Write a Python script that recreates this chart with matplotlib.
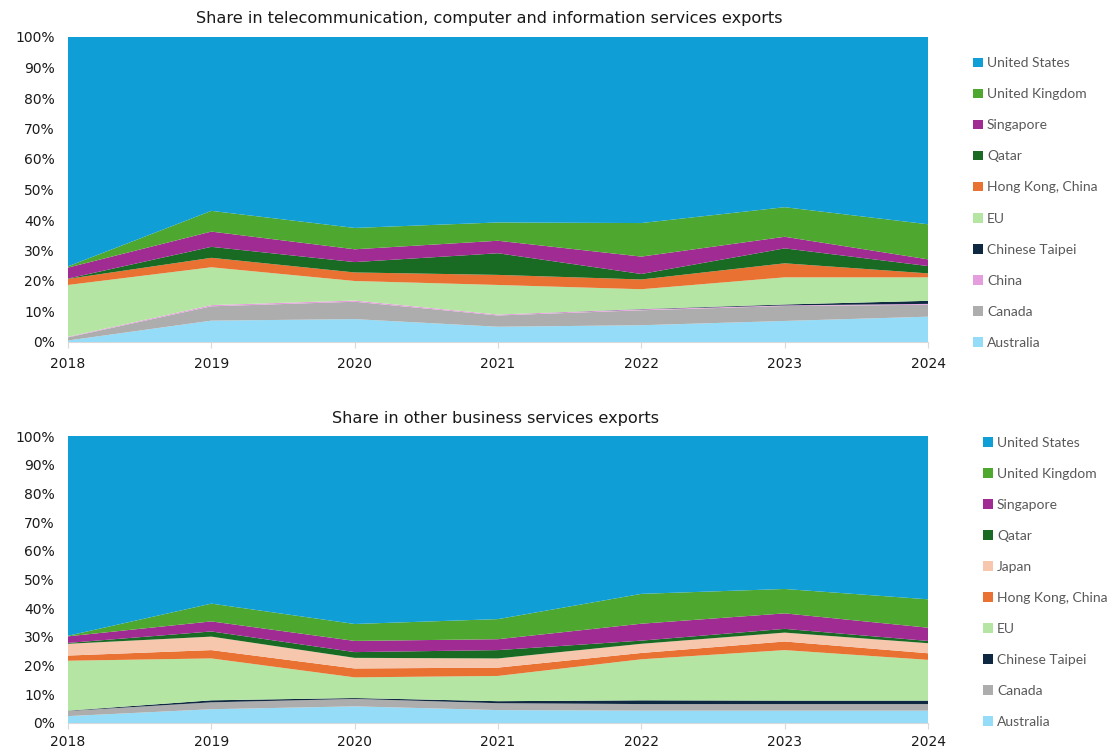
import matplotlib
matplotlib.use("Agg")
import matplotlib.pyplot as plt
from matplotlib.patches import Patch
from matplotlib.ticker import PercentFormatter

years = [2018, 2019, 2020, 2021, 2022, 2023, 2024]

# telecommunication, computer and information services (% share)
tel_australia = [0.5, 7.0, 7.5, 5.0, 5.5, 6.9, 8.3]
tel_canada = [1.0, 4.7, 5.7, 3.7, 4.9, 4.9, 3.9]
tel_china = [0.2, 0.4, 0.4, 0.3, 0.3, 0.2, 0.3]
tel_taipei = [0.0, 0.0, 0.0, 0.0, 0.1, 0.3, 1.0]
tel_eu = [17.0, 12.4, 6.4, 9.7, 6.5, 8.9, 7.7]
tel_hongkong = [2.0, 3.1, 2.8, 3.3, 3.2, 4.6, 1.3]
tel_qatar = [0.1, 3.6, 3.4, 7.1, 1.8, 4.9, 2.4]
tel_singapore = [3.6, 5.0, 4.2, 4.1, 5.7, 3.8, 2.2]
tel_uk = [0.4, 6.8, 7.0, 6.0, 11.0, 9.7, 11.5]
tel_us = [75.2, 57.0, 62.6, 60.8, 61.0, 55.8, 61.4]

# other business services (% share)
obs_australia = [2.4, 4.8, 5.8, 4.5, 4.3, 4.3, 4.3]
obs_canada = [1.8, 2.4, 2.6, 2.4, 2.3, 2.3, 2.3]
obs_taipei = [0.1, 0.7, 0.3, 0.7, 1.3, 1.2, 1.2]
obs_eu = [17.4, 14.6, 7.2, 8.8, 14.3, 17.6, 14.2]
obs_hongkong = [1.8, 2.9, 3.1, 2.9, 2.2, 3.0, 2.3]
obs_japan = [4.1, 4.7, 3.7, 3.2, 3.2, 3.1, 3.5]
obs_qatar = [0.3, 1.8, 2.0, 2.9, 1.1, 1.3, 0.8]
obs_singapore = [2.3, 3.5, 3.9, 3.8, 5.9, 5.4, 4.6]
obs_uk = [0.2, 6.2, 5.9, 7.0, 10.4, 8.5, 9.9]
obs_us = [69.6, 58.4, 65.5, 63.8, 55.0, 53.3, 56.9]

colors = {
    "Australia": "#94DCF8",
    "Canada": "#ADADAD",
    "China": "#E59EDD",
    "Chinese Taipei": "#0E2841",
    "EU": "#B4E5A2",
    "Hong Kong, China": "#E97132",
    "Japan": "#F6C6AD",
    "Qatar": "#196B24",
    "Singapore": "#A02B93",
    "United Kingdom": "#4EA72E",
    "United States": "#0F9ED5",
}

tel_series = {
    "Australia": tel_australia,
    "Canada": tel_canada,
    "China": tel_china,
    "Chinese Taipei": tel_taipei,
    "EU": tel_eu,
    "Hong Kong, China": tel_hongkong,
    "Qatar": tel_qatar,
    "Singapore": tel_singapore,
    "United Kingdom": tel_uk,
    "United States": tel_us,
}

obs_series = {
    "Australia": obs_australia,
    "Canada": obs_canada,
    "Chinese Taipei": obs_taipei,
    "EU": obs_eu,
    "Hong Kong, China": obs_hongkong,
    "Japan": obs_japan,
    "Qatar": obs_qatar,
    "Singapore": obs_singapore,
    "United Kingdom": obs_uk,
    "United States": obs_us,
}

plt.rcParams["font.family"] = "DejaVu Sans"

fig = plt.figure(figsize=(11.09, 7.49), dpi=100)
ax1 = fig.add_axes([68 / 1109, 1 - 342 / 749, 860 / 1109, 305 / 749])
ax2 = fig.add_axes([68 / 1109, 1 - 723 / 749, 860 / 1109, 287 / 749])


def draw(ax, series, xpad):
    names = list(series.keys())
    ax.stackplot(years, [series[n] for n in names],
                 colors=[colors[n] for n in names], linewidth=0)
    ax.set_xlim(years[0], years[-1])
    ax.set_ylim(0, 100)
    ax.set_xticks(years)
    ax.set_yticks(range(0, 101, 10))
    ax.yaxis.set_major_formatter(PercentFormatter(decimals=0))
    for s in ["top", "right", "left"]:
        ax.spines[s].set_visible(False)
    ax.spines["bottom"].set_color("#D9D9D9")
    ax.spines["bottom"].set_zorder(0)
    ax.tick_params(axis="x", length=4, color="#D9D9D9", pad=xpad,
                   labelsize=10, labelcolor="#1a1a1a")
    ax.tick_params(axis="y", length=0, pad=9.5, labelsize=10,
                   labelcolor="#1a1a1a")
    # legend lists the top band first
    handles = [Patch(facecolor=colors[n], edgecolor="none") for n in names[::-1]]
    return handles, names[::-1]


h1, l1 = draw(ax1, tel_series, 6.5)
h2, l2 = draw(ax2, obs_series, 4.5)

leg_kw = dict(frameon=False, loc="center left", borderpad=0, borderaxespad=0,
              handlelength=0.7, handleheight=0.7, handletextpad=0.3,
              labelspacing=1.37, labelcolor="#595959",
              prop={"family": "Lato", "size": 10})
fig.legend(h1, l1, bbox_to_anchor=(973 / 1109, 1 - 203 / 749), **leg_kw)
fig.legend(h2, l2, bbox_to_anchor=(983 / 1109, 1 - 582.5 / 749), **leg_kw)

fig.text(489 / 1109, 1 - 19 / 749,
         "Share in telecommunication, computer and information services exports",
         ha="center", va="center", fontsize=11.6, color="#1a1a1a")
fig.text(496 / 1109, 1 - 418 / 749,
         "Share in other business services exports",
         ha="center", va="center", fontsize=11.6, color="#1a1a1a")

fig.savefig("out.png", dpi=100)
